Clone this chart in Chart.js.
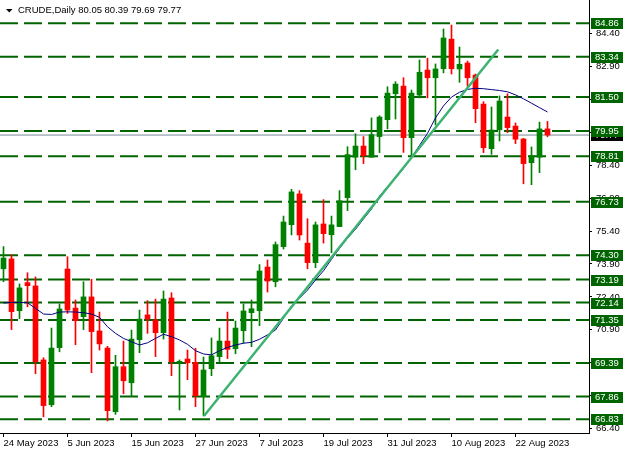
<!DOCTYPE html>
<html><head><meta charset="utf-8">
<script src="https://cdn.jsdelivr.net/npm/chart.js@4"></script>
<style>html,body{margin:0;padding:0;background:#fff;overflow:hidden}canvas{display:block}</style>
</head><body>
<canvas id="c" width="629" height="454"></canvas>
<script>
// ---- data (CRUDE, Daily) ----
const opens  = [73.68,74.13,71.77,73.05,72.90,69.53,67.49,70.09,73.67,71.89,71.50,72.40,70.85,70.07,67.17,69.22,68.49,70.45,71.58,71.35,70.77,72.35,69.42,69.57,69.42,67.86,69.13,69.68,70.39,70.04,70.86,71.68,71.77,73.76,73.09,74.69,75.69,77.09,74.85,73.96,75.72,75.23,75.60,76.92,78.76,79.27,78.76,79.70,80.47,81.65,82.00,79.65,81.59,82.73,82.38,82.79,84.14,82.78,83.05,82.50,81.18,79.15,80.01,80.59,80.18,79.59,78.51,78.76,80.05];
const highs  = [74.69,74.31,72.99,73.50,73.31,69.63,70.98,72.08,74.23,72.26,73.09,73.20,71.71,70.15,69.74,70.39,70.89,71.80,72.23,72.30,72.67,72.59,69.53,69.98,70.06,69.66,70.53,70.98,71.71,71.30,72.08,72.26,73.87,74.08,74.90,76.08,77.30,77.24,75.96,75.81,76.83,76.08,77.24,79.24,79.83,79.70,80.55,80.65,81.97,82.20,82.38,81.82,83.19,83.27,83.01,84.60,84.78,83.78,83.14,82.55,81.29,81.05,81.55,81.65,80.32,79.62,79.23,80.36,80.39];
const lows   = [73.09,70.91,71.41,71.95,68.90,66.94,67.40,69.90,71.65,70.22,70.91,68.95,69.98,66.75,67.05,67.99,67.86,69.86,70.74,69.68,70.48,68.81,67.25,68.63,67.40,66.98,68.81,69.45,69.59,69.81,70.30,70.13,71.09,72.62,72.86,74.58,75.22,74.99,73.68,73.73,74.85,74.41,75.60,76.33,78.19,78.47,78.76,78.97,80.05,80.50,78.98,78.77,81.46,81.46,80.23,82.60,82.55,82.17,81.99,80.33,78.97,78.89,79.50,79.88,79.38,77.55,77.51,78.06,79.69];
const closes = [74.17,71.73,72.81,72.91,69.45,67.45,70.07,71.85,71.80,71.32,72.40,70.82,70.26,67.22,69.22,68.58,70.48,71.39,71.39,70.77,72.30,69.45,69.44,69.40,67.90,69.07,69.72,70.39,70.01,70.98,71.76,71.86,73.58,73.12,74.78,75.81,77.18,75.22,73.96,75.68,75.28,75.68,76.78,78.88,79.27,78.83,79.79,80.59,81.68,82.09,79.65,81.68,82.63,82.38,82.78,84.19,82.79,82.99,82.38,80.97,79.19,80.00,81.32,80.11,79.58,78.47,78.82,80.05,79.77];
const maValues = [72.12,72.15,72.15,72.13,71.88,71.62,71.60,71.71,71.72,71.71,71.68,71.62,71.47,71.04,70.74,70.51,70.36,70.21,70.31,70.51,70.70,70.59,70.44,70.24,69.95,69.80,69.76,69.95,70.10,70.21,70.29,70.33,70.47,70.67,70.89,71.43,71.99,72.34,72.71,73.17,73.59,74.11,74.61,75.07,75.48,75.95,76.40,76.99,77.42,77.80,78.25,78.75,79.30,79.85,80.55,81.10,81.50,81.72,81.85,81.90,81.88,81.84,81.80,81.74,81.60,81.42,81.22,81.02,80.82];
const levels = [84.86,83.34,81.50,79.95,78.81,76.73,74.30,73.19,72.14,71.35,69.39,67.86,66.83];
const lastPrice = 79.77;
const dateLabels = ['24 May 2023','5 Jun 2023','15 Jun 2023','27 Jun 2023','7 Jul 2023','19 Jul 2023','31 Jul 2023','10 Aug 2023','22 Aug 2023'];
const dateIndex = [0,8,16,24,32,40,48,56,64];
const yTicks = [66.40,67.90,69.40,70.90,72.40,73.90,75.40,76.90,78.40,79.90,81.40,82.90,84.40];
const trendX = [25.06, 61.85];
const trendY = [66.98, 83.67];
const titleText = 'CRUDE,Daily 80.05 80.39 79.69 79.77';

// ---- view ----
const X_MIN = -0.4375, X_MAX = 73.1875, Y_MIN = 66.202, Y_MAX = 85.92;
const GREEN = '#008000', RED = '#ff0000', LEVEL = '#006400';
const FONT = '"Liberation Sans", Arial, sans-serif';
Chart.defaults.font.family = FONT;
Chart.defaults.font.size = 9.5;
Chart.defaults.color = '#000';

const idx = opens.map((_, i) => i);
const col = idx.map(i => closes[i] >= opens[i] ? GREEN : RED);

const levelSets = levels.map(l => ({
  type: 'line', data: [{x: X_MIN, y: l}, {x: X_MAX, y: l}],
  borderColor: LEVEL, borderWidth: 2, borderDash: [18, 6], pointRadius: 0, order: 10
}));

const overlay = {
  id: 'overlay',
  afterDraw(chart) {
    const ctx = chart.ctx, ys = chart.scales.y, a = chart.chartArea;
    ctx.save();
    const box = (val, bg) => {
      const py = Math.round(ys.getPixelForValue(val));
      ctx.fillStyle = bg;
      ctx.fillRect(a.right + 2, py - 5, 32, 11);
      ctx.fillStyle = '#fff';
      ctx.font = '9.5px ' + FONT;
      ctx.textAlign = 'left';
      ctx.textBaseline = 'middle';
      ctx.fillText(val.toFixed(2), a.right + 6, py + 0.5);
    };
    box(lastPrice, '#000');
    levels.forEach(l => box(l, LEVEL));
    // title
    ctx.fillStyle = '#000';
    ctx.beginPath();
    ctx.moveTo(6, 9); ctx.lineTo(12.5, 9); ctx.lineTo(9.25, 12.5); ctx.closePath(); ctx.fill();
    ctx.font = '9.5px ' + FONT;
    ctx.textAlign = 'left';
    ctx.textBaseline = 'middle';
    ctx.fillText(titleText, 18, 10.5);
    ctx.restore();
  }
};

new Chart(document.getElementById('c'), {
  type: 'bar',
  data: {
    datasets: [
      {type: 'line', data: trendX.map((x, k) => ({x, y: trendY[k]})), borderColor: '#3cb371', borderWidth: 2.5, pointRadius: 0, order: 1},
      {type: 'line', data: idx.map(i => ({x: i, y: maValues[i]})), borderColor: '#000080', borderWidth: 1, pointRadius: 0, tension: 0, order: 2},
      {type: 'bar', data: idx.map(i => ({x: i, y: [opens[i], closes[i]]})), backgroundColor: col, borderWidth: 0, barThickness: 5, grouped: false, minBarLength: 1, order: 4},
      {type: 'bar', data: idx.map(i => ({x: i, y: [lows[i], highs[i]]})), backgroundColor: col, borderWidth: 0, barThickness: 1, grouped: false, order: 5},
      {type: 'line', data: [{x: X_MIN, y: lastPrice}, {x: X_MAX, y: lastPrice}], borderColor: '#778899', borderWidth: 1, pointRadius: 0, order: 9},
      ...levelSets
    ]
  },
  options: {
    responsive: false, animation: false, devicePixelRatio: 1,
    layout: {padding: 0},
    plugins: {legend: {display: false}, tooltip: {enabled: false}, title: {display: false}},
    events: [],
    scales: {
      x: {
        type: 'linear', position: 'bottom', min: X_MIN, max: X_MAX, bounds: 'data', offset: false,
        grid: {display: true, drawOnChartArea: false, drawTicks: true, tickLength: 4, color: '#000', offset: false},
        border: {display: true, color: '#000', width: 1},
        ticks: {autoSkip: false, maxRotation: 0, minRotation: 0, align: 'start', padding: 1, color: '#000',
          callback: v => { const k = dateIndex.indexOf(v); return k >= 0 ? dateLabels[k] : ''; }},
        afterBuildTicks: s => { s.ticks = dateIndex.map(v => ({value: v})); },
        afterFit: s => { s.height = 21; s.paddingLeft = 0; s.paddingRight = 0; }
      },
      y: {
        type: 'linear', position: 'right', min: Y_MIN, max: Y_MAX, bounds: 'data', beginAtZero: false,
        grid: {display: true, drawOnChartArea: false, drawTicks: true, tickLength: 3, color: '#000'},
        border: {display: true, color: '#000', width: 1},
        ticks: {padding: 4, color: '#000', callback: v => Number(v).toFixed(2)},
        afterBuildTicks: s => { s.ticks = yTicks.map(v => ({value: v})); },
        afterFit: s => { s.width = 40; s.paddingTop = 0; s.paddingBottom = 0; }
      }
    }
  },
  plugins: [overlay]
});
</script>
</body></html>
